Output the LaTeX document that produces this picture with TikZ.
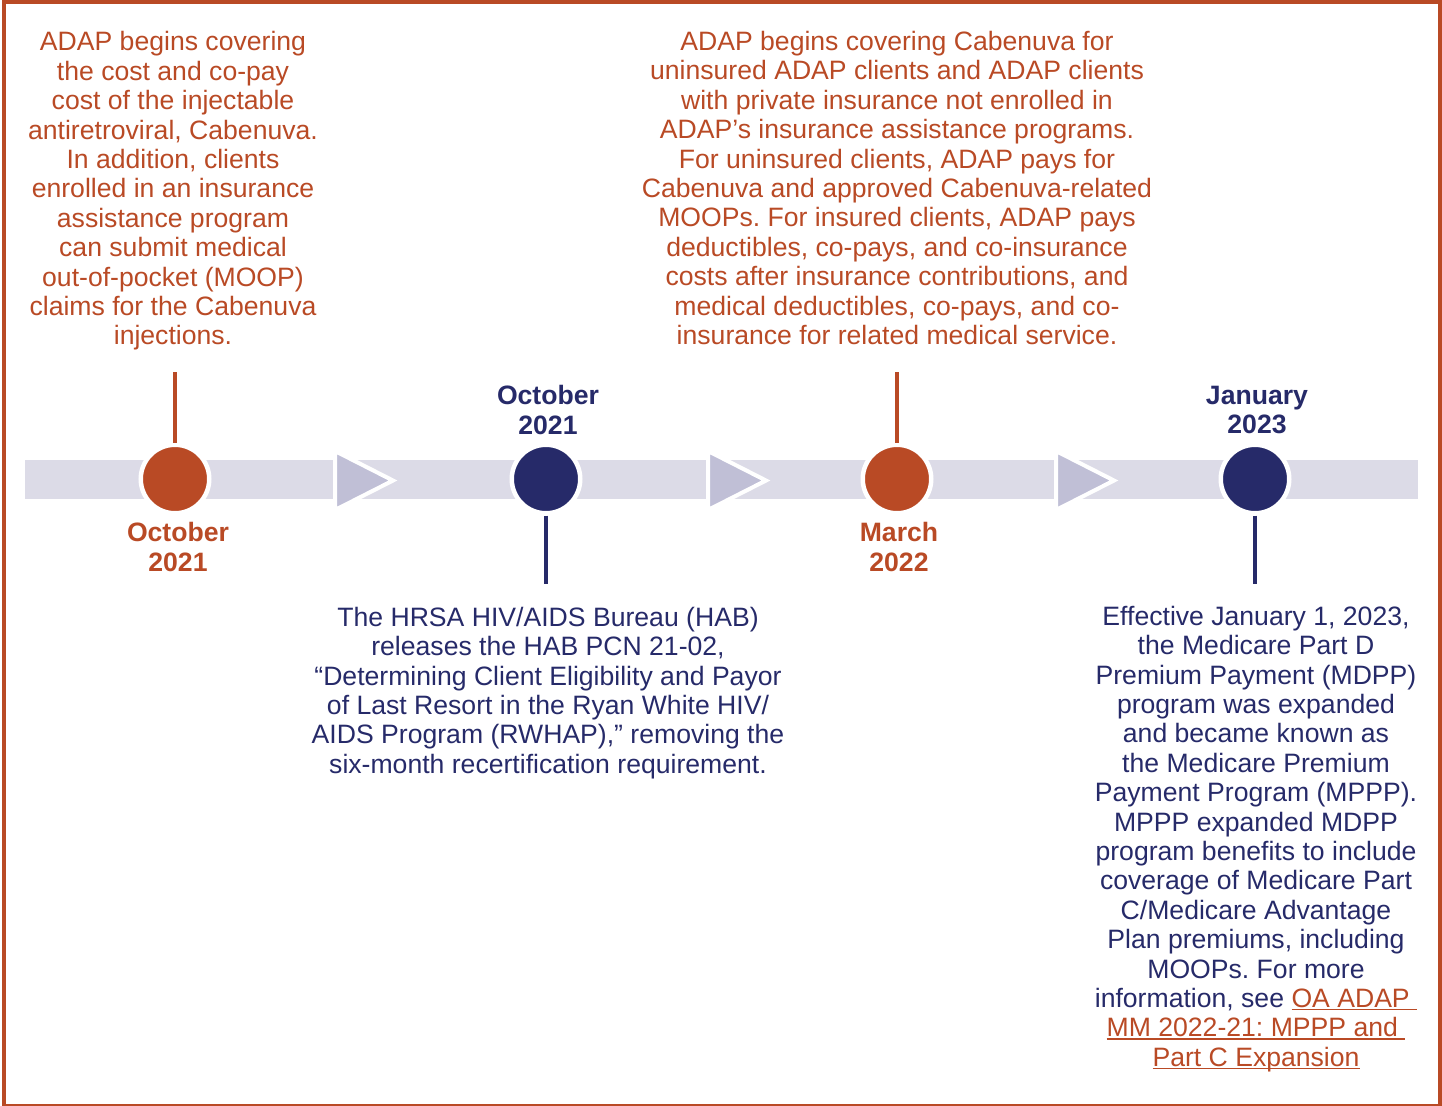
\documentclass[tikz,border=0pt]{standalone}
\usepackage{fontspec}
\setmainfont{Liberation Sans}
\usetikzlibrary{calc}
\frenchspacing
\definecolor{tlorange}{HTML}{B94A25}
\definecolor{tlnavy}{HTML}{262A69}
\definecolor{tlband}{HTML}{DCDBE7}
\definecolor{tlchevron}{HTML}{C0BFD6}
\tikzset{
  event/.style={circle, fill=#1, draw=white, line width=2.25pt, minimum size=34.25pt, inner sep=0pt},
  stemline/.style={draw=#1, line width=1.75pt},
  datelabel/.style={text=#1, font=\fontsize{13.3}{14.7}\selectfont\bfseries, align=center, inner sep=0pt},
  blurb/.style={text=#1, font=\fontsize{13.3}{14.7}\selectfont, align=center, inner sep=0pt},
  chevron/.style={fill=tlchevron, draw=white, line width=2pt, line join=miter},
}
\newcommand{\TLLink}[1]{\textcolor{tlorange}{\setbox0\hbox{#1}\rlap{\rule[-1.3pt]{\wd0}{0.65pt}}\box0}}

\begin{document}
\begin{tikzpicture}[x=0.5pt,y=-0.5pt]
    \useasboundingbox (0,0) rectangle (1442,1105);
    \clip (0,0) rectangle (1442,1105);
    \draw[tlorange, line width=2pt] (4,2) rectangle (1440,1106);

    \coordinate (s1) at (175,372);
    \coordinate (s2) at (546,584);
    \coordinate (s3) at (897,372);
    \coordinate (s4) at (1255,584);

% ---- band and chevrons
    \fill[tlband] (25,460) rectangle (1418,499);
    \foreach \x in {335,708,1056}{
      \filldraw[chevron] (\x,451) -- (\x,510) -- (\x+58,480.5) -- cycle;
    }

% ---- events
    \node[event=tlorange] (c1) at (175,479) {};
    \node[event=tlnavy]   (c2) at (546,479) {};
    \node[event=tlorange] (c3) at (897,479) {};
    \node[event=tlnavy]   (c4) at (1255,479) {};

    \draw[stemline=tlorange] (c1.north) -- (s1);
    \draw[stemline=tlnavy]   (c2.south) -- (s2);
    \draw[stemline=tlorange] (c3.north) -- (s3);
    \draw[stemline=tlnavy]   (c4.south) -- (s4);

    \node[datelabel=tlorange] (d1) at (178,547) {October\\2021};
    \node[datelabel=tlnavy]   (d2) at (548,410) {October\\2021};
    \node[datelabel=tlorange] (d3) at (899,547) {March\\2022};
    \node[datelabel=tlnavy]   (d4) at (1257,410) {January\\2023};

% ---- texts
    \node[blurb=tlorange] (b1) at (173,191) {ADAP begins covering\\the cost and co-pay\\cost of the injectable\\antiretroviral, Cabenuva.\\In addition, clients\\enrolled in an insurance\\assistance program\\can submit medical\\out-of-pocket (MOOP)\\claims for the Cabenuva\\injections.};
    \node[blurb=tlorange] (b3) at (897,188) {ADAP begins covering Cabenuva for\\uninsured ADAP clients and ADAP clients\\with private insurance not enrolled in\\ADAP’s insurance assistance programs.\\For uninsured clients, ADAP pays for\\Cabenuva and approved Cabenuva-related\\MOOPs. For insured clients, ADAP pays\\deductibles, co-pays, and co-insurance\\costs after insurance contributions, and\\medical deductibles, co-pays, and co-\\insurance for related medical service.};
    \node[blurb=tlnavy] (b2) at (548,693) {The HRSA HIV/AIDS Bureau (HAB)\\releases the HAB PCN 21-02,\\“Determining Client Eligibility and Payor\\of Last Resort in the Ryan White HIV/\\AIDS Program (RWHAP),” removing the\\six-month recertification requirement.};
    \node[blurb=tlnavy] (b4) at (1256,839) {Effective January 1, 2023,\\the Medicare Part D\\Premium Payment (MDPP)\\program was expanded\\and became known as\\the Medicare Premium\\Payment Program (MPPP).\\MPPP expanded MDPP\\program benefits to include\\coverage of Medicare Part\\C/Medicare Advantage\\Plan premiums, including\\MOOPs. For more\\information, see \TLLink{OA ADAP\ }\\\TLLink{MM 2022-21: MPPP and\ }\\\TLLink{Part C Expansion}};
\end{tikzpicture}
\end{document}
